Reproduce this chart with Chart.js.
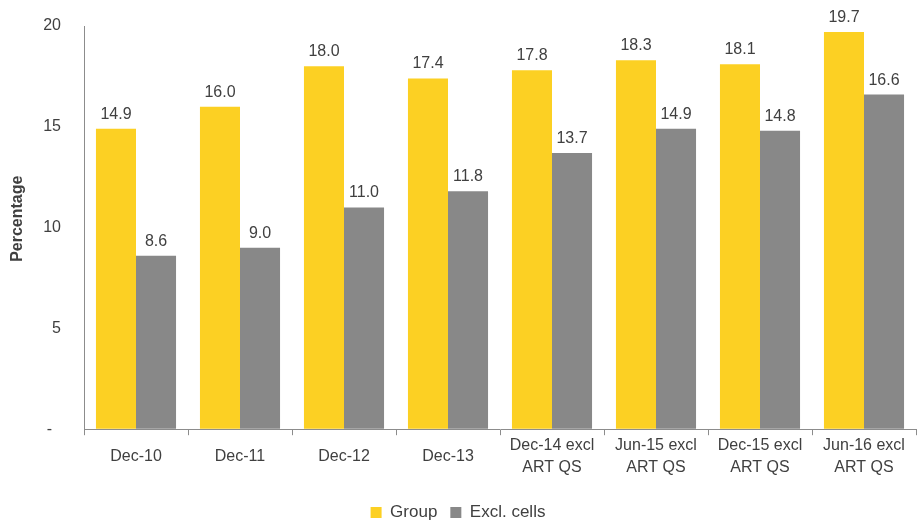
<!DOCTYPE html>
<html>
<head>
<meta charset="utf-8">
<script src="https://cdn.jsdelivr.net/npm/chart.js@4.4.1/dist/chart.umd.min.js"></script>
<style>
  body { margin: 0; background: #fff; }
  #wrap { width: 917px; height: 524px; }
</style>
</head>
<body>
<div id="wrap"><canvas id="myChart" width="917" height="524"></canvas></div>
<script>
var periods = [
    'Dec-10', 'Dec-11', 'Dec-12', 'Dec-13',
    ['Dec-14 excl', 'ART QS'], ['Jun-15 excl', 'ART QS'],
    ['Dec-15 excl', 'ART QS'], ['Jun-16 excl', 'ART QS']
];
var groupValues = [14.9, 16.0, 18.0, 17.4, 17.8, 18.3, 18.1, 19.7];
var exclCellsValues = [8.6, 9.0, 11.0, 11.8, 13.7, 14.9, 14.8, 16.6];
var yTickLabels = {0: '-  ', 5: '5', 10: '10', 15: '15', 20: '20'};

var textColor = '#404040';
var axisColor = '#8c8c8c';
Chart.defaults.font.family = '"Liberation Sans", Arial, sans-serif';
Chart.defaults.font.size = 16;
Chart.defaults.color = textColor;

// value printed above each bar
var barValues = {
    id: 'barValues',
    afterDatasetsDraw: function(chart) {
        var ctx = chart.ctx;
        ctx.save();
        ctx.font = '16px "Liberation Sans", Arial, sans-serif';
        ctx.fillStyle = textColor;
        ctx.textAlign = 'center';
        ctx.textBaseline = 'alphabetic';
        chart.data.datasets.forEach(function(ds, i) {
            chart.getDatasetMeta(i).data.forEach(function(bar, j) {
                ctx.fillText(ds.data[j].toFixed(1), bar.x, bar.y - 10);
            });
        });
        ctx.restore();
    }
};

document.addEventListener('DOMContentLoaded', drawChart);

function drawChart(){
    var ctx = document.getElementById('myChart').getContext('2d');
    new Chart(ctx, {
        type: 'bar',
        data: {
            labels: periods,
            datasets: [{
                label: 'Group',
                backgroundColor: '#FCD023',
                data: groupValues,
                categoryPercentage: 0.77,
                barPercentage: 1.0
            },
            {
                label: 'Excl. cells',
                backgroundColor: '#888888',
                data: exclCellsValues,
                categoryPercentage: 0.77,
                barPercentage: 1.0
            }]
        },
        options: {
            responsive: false,
            devicePixelRatio: 1,
            animation: false,
            layout: {padding: {left: 0, right: 1, top: 26, bottom: -7}},
            plugins: {
                tooltip: {enabled: false},
                legend: {
                    position: 'bottom',
                    labels: {boxWidth: 11, boxHeight: 11, padding: 13, color: textColor,
                             font: {size: 17}}
                }
            },
            scales: {
                x: {
                    grid: {display: true, drawOnChartArea: false, drawTicks: true,
                           tickLength: 6, color: axisColor, offset: true},
                    border: {display: true, color: axisColor},
                    ticks: {color: textColor, padding: 10, crossAlign: 'center',
                            maxRotation: 0, autoSkip: false,
                            font: {size: 16, lineHeight: 1.4}},
                    afterFit: function(scale) { scale.height -= 9; }
                },
                y: {
                    min: 0,
                    max: 20,
                    grid: {display: true, drawOnChartArea: false, drawTicks: false},
                    border: {display: true, color: axisColor},
                    ticks: {
                        stepSize: 5,
                        padding: 23,
                        color: textColor,
                        callback: function(v) { return yTickLabels[v]; }
                    },
                    title: {display: true, text: '\u00a0\u00a0\u00a0\u00a0Percentage', color: textColor,
                            font: {size: 16, weight: 'bold'}, padding: {top: 8, bottom: 0}},
                    afterFit: function(scale) {
                        scale.width = 84;
                        // the wide tick padding would otherwise push the plot top down
                        scale.paddingTop = 0;
                        scale.paddingBottom = 0;
                    }
                }
            }
        },
        plugins: [barValues]
    });
}
</script>
</body>
</html>
